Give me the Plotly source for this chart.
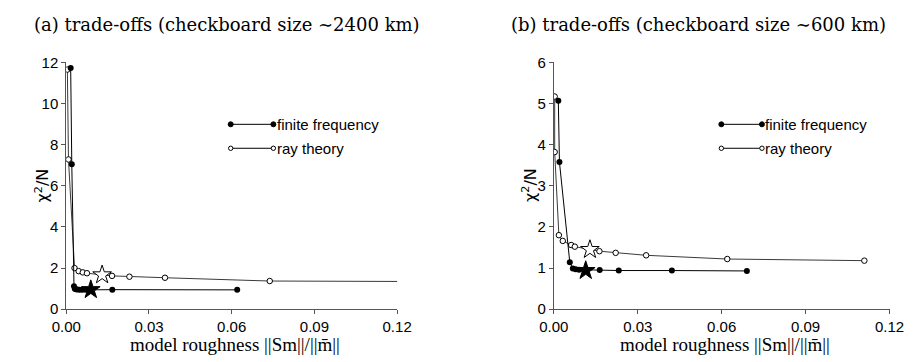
import plotly.graph_objects as go

# ---------------- data ----------------
# (a) checkboard size ~2400 km
a_ff_x = [0.0016, 0.0020, 0.0028, 0.0031, 0.0035, 0.0040, 0.0048, 0.0058, 0.0070, 0.0167, 0.0620]
a_ff_y = [11.73, 7.05, 1.12, 1.00, 0.97, 0.96, 0.95, 0.95, 0.94, 0.95, 0.94]
a_rt_x = [0.0004, 0.0008, 0.0030, 0.0045, 0.0060, 0.0075, 0.0166, 0.0229, 0.0358, 0.0738, 0.1400]
a_rt_y = [11.65, 7.28, 2.00, 1.85, 1.79, 1.75, 1.62, 1.58, 1.53, 1.37, 1.34]
a_star_ff = ([0.0089], [0.95])
a_star_rt = ([0.0130], [1.67])

# (b) checkboard size ~600 km
b_ff_x = [0.0016, 0.0020, 0.0057, 0.0068, 0.0078, 0.0090, 0.0164, 0.0232, 0.0422, 0.0690]
b_ff_y = [5.07, 3.58, 1.14, 0.99, 0.97, 0.96, 0.95, 0.94, 0.94, 0.93]
b_rt_x = [0.0003, 0.0003, 0.0018, 0.0032, 0.0062, 0.0075, 0.0163, 0.0221, 0.0330, 0.0620, 0.1110]
b_rt_y = [5.17, 3.82, 1.80, 1.66, 1.56, 1.52, 1.41, 1.37, 1.31, 1.22, 1.18]
b_star_ff = ([0.0114], [0.94])
b_star_rt = ([0.0129], [1.45])

x_ticks = [0.00, 0.03, 0.06, 0.09, 0.12]
x_ticklabels = ["0.00", "0.03", "0.06", "0.09", "0.12"]
a_y_ticks = [0, 2, 4, 6, 8, 10, 12]
b_y_ticks = [0, 1, 2, 3, 4, 5, 6]

titles = ["(a) trade-offs (checkboard size \u223c2400 km)",
          "(b) trade-offs (checkboard size \u223c600 km)"]
legend_labels = ["finite frequency", "ray theory"]
x_title = "model roughness ||Sm||/||m\u0304||"
y_title = "\u03c7<sup>2</sup>/N"

# ---------------- figure ----------------
fig = go.Figure()

FF_LINE = dict(color="black", width=1)
RT_LINE = dict(color="#3a3a3a", width=1)
FF_MARK = dict(color="black", size=6)
RT_MARK = dict(color="white", size=5.5, line=dict(color="black", width=1))


def add_panel(xa, ya, ffx, ffy, rtx, rty, sff, srt):
    fig.add_trace(go.Scatter(x=rtx, y=rty, mode="lines+markers", line=RT_LINE,
                             marker=RT_MARK, xaxis=xa, yaxis=ya, showlegend=False))
    fig.add_trace(go.Scatter(x=ffx, y=ffy, mode="lines+markers", line=FF_LINE,
                             marker=FF_MARK, xaxis=xa, yaxis=ya, showlegend=False))
    fig.add_trace(go.Scatter(x=srt[0], y=srt[1], mode="markers",
                             marker=dict(symbol="star", size=14, color="white",
                                         line=dict(color="black", width=1)),
                             xaxis=xa, yaxis=ya, showlegend=False))
    fig.add_trace(go.Scatter(x=sff[0], y=sff[1], mode="markers",
                             marker=dict(symbol="star", size=14, color="black",
                                         line=dict(color="black", width=1)),
                             xaxis=xa, yaxis=ya, showlegend=False))


add_panel("x", "y", a_ff_x, a_ff_y, a_rt_x, a_rt_y, a_star_ff, a_star_rt)
add_panel("x2", "y2", b_ff_x, b_ff_y, b_rt_x, b_rt_y, b_star_ff, b_star_rt)

W, H = 920, 362
ax_common = dict(showgrid=False, zeroline=False, showline=True, linecolor="#555",
                 linewidth=1, ticks="outside", ticklen=4, tickcolor="#555",
                 tickfont=dict(family="Liberation Sans, Arial", size=15, color="black"))

fig.update_layout(
    width=W, height=H, margin=dict(l=0, r=0, t=0, b=0),
    paper_bgcolor="white", plot_bgcolor="white",
    xaxis=dict(domain=[53 / W, 395 / W], range=[0, 0.12], tickvals=x_ticks,
               ticktext=x_ticklabels, anchor="y", **ax_common),
    yaxis=dict(domain=[(H - 315) / H, (H - 56) / H], range=[0, 12], tickvals=a_y_ticks,
               anchor="x", **ax_common),
    xaxis2=dict(domain=[557 / W, 904 / W], range=[0, 0.12], tickvals=x_ticks,
                ticktext=x_ticklabels, anchor="y2", **ax_common),
    yaxis2=dict(domain=[(H - 315) / H, (H - 56) / H], range=[0, 6], tickvals=b_y_ticks,
                anchor="x2", **ax_common),
)

# titles, axis titles
for i, cx in enumerate([219, 707]):
    fig.add_annotation(text=titles[i], xref="paper", yref="paper", x=cx / W, y=1 - 16 / H,
                       showarrow=False, xanchor="center", yanchor="middle",
                       font=dict(family="DejaVu Serif", size=18, color="black"))

for xa in ["x", "x2"]:
    fig.add_annotation(text=x_title, xref=xa + " domain", yref="paper", x=0.51, y=-3 / H,
                       showarrow=False, xanchor="center", yanchor="bottom",
                       font=dict(family="Liberation Serif", size=19, color="black"))

for px in [28, 532]:
    fig.add_annotation(text=y_title, xref="paper", yref="paper", x=px / W, y=1 - 185 / H,
                       showarrow=False, xanchor="center", yanchor="middle", textangle=-90,
                       font=dict(family="DejaVu Sans", size=16, color="black"))

# in-plot legend drawn with shapes
legend_pos = {"x": (0.497, 0.626), "x2": (0.499, 0.620)}
legend_y = [0.749, 0.652]
for xa, ya in [("x", "y"), ("x2", "y2")]:
    x0, x1 = legend_pos[xa]
    for k, ly in enumerate(legend_y):
        fill = "black" if k == 0 else "white"
        r = 2.5 if k == 0 else 2.2
        fig.add_shape(type="line", xref=xa + " domain", yref=ya + " domain",
                      x0=x0, x1=x1, y0=ly, y1=ly, line=dict(color="black", width=1))
        for xc in (x0, x1):
            fig.add_shape(type="circle", xref=xa + " domain", yref=ya + " domain",
                          xsizemode="pixel", ysizemode="pixel", xanchor=xc, yanchor=ly,
                          x0=-r, x1=r, y0=-r, y1=r, fillcolor=fill,
                          line=dict(color="black", width=1))
        fig.add_annotation(text=legend_labels[k], xref=xa + " domain", yref=ya + " domain",
                           x=x1 + 0.004, y=ly, showarrow=False, xanchor="left",
                           yanchor="middle",
                           font=dict(family="Liberation Sans, Arial", size=15, color="black"))

fig.write_html("out.html")
